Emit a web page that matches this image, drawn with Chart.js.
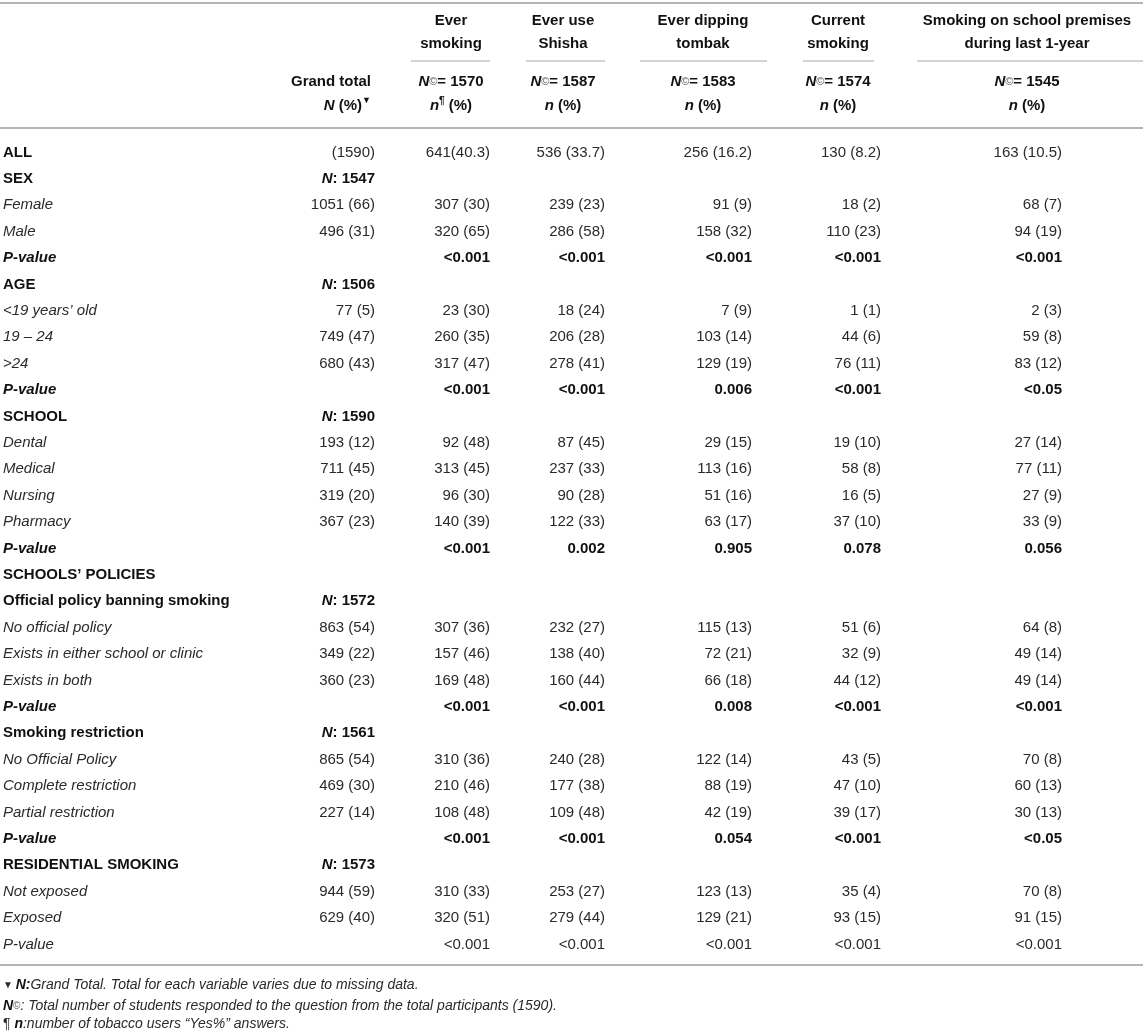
<!DOCTYPE html>
<html>
<head>
<meta charset="utf-8">
<script src="https://cdn.jsdelivr.net/npm/chart.js@4/dist/chart.umd.min.js"></script>
<style>
html,body{margin:0;padding:0;background:#fff;overflow:hidden;}
canvas{display:block;}
</style>
</head>
<body>
<canvas id="c" width="1143" height="1033"></canvas>
<script>
// ---------------- DATA ----------------
const rowLabels = [
  "ALL","SEX","Female","Male","P-value","AGE","<19 years’ old","19 – 24",">24","P-value",
  "SCHOOL","Dental","Medical","Nursing","Pharmacy","P-value","SCHOOLS’ POLICIES",
  "Official policy banning smoking","No official policy","Exists in either school or clinic","Exists in both","P-value",
  "Smoking restriction","No Official Policy","Complete restriction","Partial restriction","P-value",
  "RESIDENTIAL SMOKING","Not exposed","Exposed","P-value"
];
const rowTypes = [
  "all","group","cat","cat","p","group","cat","cat","cat","p",
  "group","cat","cat","cat","cat","p","section",
  "group","cat","cat","cat","p",
  "group","cat","cat","cat","p",
  "group","cat","cat","plain"
];
const grandTotal = [
  "(1590)","N: 1547","1051 (66)","496 (31)","","N: 1506","77 (5)","749 (47)","680 (43)","",
  "N: 1590","193 (12)","711 (45)","319 (20)","367 (23)","","",
  "N: 1572","863 (54)","349 (22)","360 (23)","",
  "N: 1561","865 (54)","469 (30)","227 (14)","",
  "N: 1573","944 (59)","629 (40)",""
];
const everSmoking = [
  "641(40.3)","","307 (30)","320 (65)","<0.001","","23 (30)","260 (35)","317 (47)","<0.001",
  "","92 (48)","313 (45)","96 (30)","140 (39)","<0.001","",
  "","307 (36)","157 (46)","169 (48)","<0.001",
  "","310 (36)","210 (46)","108 (48)","<0.001",
  "","310 (33)","320 (51)","<0.001"
];
const everShisha = [
  "536 (33.7)","","239 (23)","286 (58)","<0.001","","18 (24)","206 (28)","278 (41)","<0.001",
  "","87 (45)","237 (33)","90 (28)","122 (33)","0.002","",
  "","232 (27)","138 (40)","160 (44)","<0.001",
  "","240 (28)","177 (38)","109 (48)","<0.001",
  "","253 (27)","279 (44)","<0.001"
];
const everTombak = [
  "256 (16.2)","","91 (9)","158 (32)","<0.001","","7 (9)","103 (14)","129 (19)","0.006",
  "","29 (15)","113 (16)","51 (16)","63 (17)","0.905","",
  "","115 (13)","72 (21)","66 (18)","0.008",
  "","122 (14)","88 (19)","42 (19)","0.054",
  "","123 (13)","129 (21)","<0.001"
];
const currentSmoking = [
  "130 (8.2)","","18 (2)","110 (23)","<0.001","","1 (1)","44 (6)","76 (11)","<0.001",
  "","19 (10)","58 (8)","16 (5)","37 (10)","0.078","",
  "","51 (6)","32 (9)","44 (12)","<0.001",
  "","43 (5)","47 (10)","39 (17)","<0.001",
  "","35 (4)","93 (15)","<0.001"
];
const schoolPremises = [
  "163 (10.5)","","68 (7)","94 (19)","<0.001","","2 (3)","59 (8)","83 (12)","<0.05",
  "","27 (14)","77 (11)","27 (9)","33 (9)","0.056","",
  "","64 (8)","49 (14)","49 (14)","<0.001",
  "","70 (8)","60 (13)","30 (13)","<0.05",
  "","70 (8)","91 (15)","<0.001"
];
const columnTitles = [
  ["Ever","smoking"],["Ever use","Shisha"],["Ever dipping","tombak"],["Current","smoking"],
  ["Smoking on school premises","during last 1-year"]
];
const columnN = ["1570","1587","1583","1574","1545"];

// ---------------- LAYOUT (positions, not data) ----------------
const W = 1143, H = 1033;
const FAM = '"Liberation Sans", Arial, Helvetica, sans-serif';
const f = (s, px) => `${s} ${px || 15}px ${FAM}`;
const TXT = "#2a2a2a", BTXT = "#111";
const colAnchor = { label: 3, grand: 375, c0: 490, c1: 605, c2: 752, c3: 881, c4: 1062 };
const headCenter = [451, 563, 703, 838, 1027];
const headRule = [[411, 490], [526, 605], [640, 767], [803, 874], [917, 1143]];
const valueCols = [
  { key: "grand", vals: grandTotal },
  { key: "c0", vals: everSmoking },
  { key: "c1", vals: everShisha },
  { key: "c2", vals: everTombak },
  { key: "c3", vals: currentSmoking },
  { key: "c4", vals: schoolPremises }
];
const rowCount = rowLabels.length;
const rowStep = 26.4, firstRowY = 152.5;
const areaTop = firstRowY - rowStep / 2;
const areaBottom = areaTop + rowStep * rowCount;

function drawRuns(ctx, runs, x, y, align) {
  let total = 0;
  runs.forEach(r => { ctx.font = r.f; r.w = ctx.measureText(r.t).width; total += r.w; });
  let cx = align === "right" ? x - total : align === "center" ? x - total / 2 : x;
  ctx.textAlign = "left";
  ctx.textBaseline = "middle";
  runs.forEach(r => {
    ctx.font = r.f;
    ctx.fillStyle = r.c || TXT;
    ctx.fillText(r.t, cx, y + (r.dy || 0));
    cx += r.w;
  });
}

function hline(ctx, x0, x1, y, lw, color) {
  ctx.save();
  ctx.strokeStyle = color; ctx.lineWidth = lw;
  ctx.beginPath(); ctx.moveTo(x0, y); ctx.lineTo(x1, y); ctx.stroke();
  ctx.restore();
}

const tablePlugin = {
  id: "tableText",
  afterDatasetsDraw(chart) {
    const ctx = chart.ctx;
    const xs = chart.scales.x;
    ctx.save();
    // rules
    hline(ctx, 0, W, 3, 2, "#b5b5b5");
    headRule.forEach(([a, b]) => hline(ctx, xs.getPixelForValue(a), xs.getPixelForValue(b), 61, 1.5, "#c4c4c4"));
    hline(ctx, 0, W, 128, 2, "#b5b5b5");
    hline(ctx, 0, W, 965, 2, "#b5b5b5");

    // header
    columnTitles.forEach((lines, i) => {
      const cx = xs.getPixelForValue(headCenter[i]);
      drawRuns(ctx, [{ t: lines[0], f: f("bold"), c: BTXT }], cx, 21, "center");
      drawRuns(ctx, [{ t: lines[1], f: f("bold"), c: BTXT }], cx, 44, "center");
      drawRuns(ctx, [
        { t: "N", f: f("italic bold"), c: BTXT },
        { t: "©", f: f("normal", 11), c: "#555" },
        { t: "= " + columnN[i], f: f("bold"), c: BTXT }
      ], cx, 82, "center");
      const nRuns = [{ t: "n", f: f("italic bold"), c: BTXT }];
      if (i === 0) nRuns.push({ t: "¶", f: f("bold", 10), c: BTXT, dy: -5 });
      nRuns.push({ t: " (%)", f: f("bold"), c: BTXT });
      drawRuns(ctx, nRuns, cx, 106, "center");
    });
    const gx = xs.getPixelForValue(371);
    drawRuns(ctx, [{ t: "Grand total", f: f("bold"), c: BTXT }], gx, 82, "right");
    drawRuns(ctx, [
      { t: "N", f: f("italic bold"), c: BTXT },
      { t: " (%)", f: f("bold"), c: BTXT },
      { t: "▼", f: f("normal", 9), c: BTXT, dy: -5 }
    ], gx, 106, "right");

    // cells, positioned by the chart's own elements
    chart.data.datasets.forEach((ds, di) => {
      const meta = chart.getDatasetMeta(di);
      meta.data.forEach((el, i) => {
        const type = rowTypes[i];
        const text = ds.cellText[i];
        if (!text) return;
        if (ds.isLabel) {
          let font = f("normal"), c = TXT;
          if (type === "all" || type === "group" || type === "section") { font = f("bold"); c = BTXT; }
          else if (type === "cat" || type === "plain") { font = f("italic"); }
          else if (type === "p") { font = f("italic bold"); c = BTXT; }
          drawRuns(ctx, [{ t: text, f: font, c }], el.x, el.y, "left");
        } else if (text.startsWith("N:")) {
          drawRuns(ctx, [
            { t: "N", f: f("italic bold"), c: BTXT },
            { t: text.slice(1), f: f("bold"), c: BTXT }
          ], el.x, el.y, "right");
        } else {
          const bold = type === "p";
          drawRuns(ctx, [{ t: text, f: bold ? f("bold") : f("normal"), c: bold ? BTXT : TXT }], el.x, el.y, "right");
        }
      });
    });

    // footnotes
    const fy = [985, 1006, 1024];
    drawRuns(ctx, [
      { t: "▼ ", f: f("normal", 10) },
      { t: "N:", f: f("italic bold", 14), c: BTXT },
      { t: "Grand Total. Total for each variable varies due to missing data.", f: f("italic", 14) }
    ], 3, fy[0], "left");
    drawRuns(ctx, [
      { t: "N", f: f("italic bold", 14), c: BTXT },
      { t: "©", f: f("normal", 10), c: "#555" },
      { t: ": Total number of students responded to the question from the total participants (1590).", f: f("italic", 14) }
    ], 3, fy[1], "left");
    drawRuns(ctx, [
      { t: "¶ ", f: f("normal", 14) },
      { t: "n", f: f("italic bold", 14), c: BTXT },
      { t: ":number of tobacco users “Yes%” answers.", f: f("italic", 14) }
    ], 3, fy[2], "left");
    ctx.restore();
  }
};

const datasets = [
  { isLabel: true, cellText: rowLabels, data: rowLabels.map((_, i) => ({ x: colAnchor.label, y: i })) }
].concat(valueCols.map(col => ({
  isLabel: false, cellText: col.vals, data: col.vals.map((_, i) => ({ x: colAnchor[col.key], y: i }))
})));
datasets.forEach(d => { d.pointRadius = 0; d.pointHoverRadius = 0; d.showLine = false; });

new Chart(document.getElementById("c"), {
  type: "scatter",
  data: { datasets },
  options: {
    responsive: false,
    animation: false,
    devicePixelRatio: 1,
    events: [],
    layout: { padding: { left: 0, right: 0, top: areaTop, bottom: H - areaBottom } },
    plugins: { legend: { display: false }, tooltip: { enabled: false }, title: { display: false } },
    scales: {
      x: { type: "linear", display: false, min: 0, max: W },
      y: { type: "linear", display: false, reverse: true, min: -0.5, max: rowCount - 0.5 }
    }
  },
  plugins: [tablePlugin]
});
</script>
</body>
</html>
